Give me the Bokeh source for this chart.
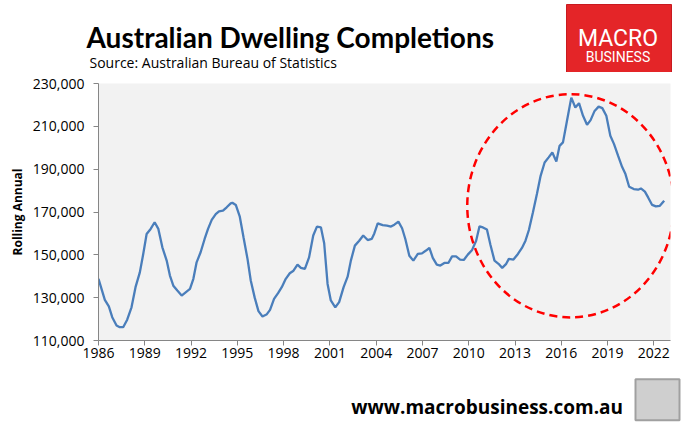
from bokeh.plotting import figure
from bokeh.models import Range1d, FixedTicker, NumeralTickFormatter
from bokeh.layouts import column
from bokeh.core.properties import value
from bokeh.embed import file_html
from bokeh.resources import INLINE

# ---- data (rolling annual dwelling completions) ----
years = [
    1986.00, 1986.41, 1986.67, 1986.89, 1987.17, 1987.38, 1987.60, 1987.86,
    1988.14, 1988.40, 1988.68, 1988.90, 1989.12, 1989.38, 1989.64, 1989.88,
    1990.14, 1990.42, 1990.63, 1990.85, 1991.11, 1991.39, 1991.65, 1991.93,
    1992.15, 1992.36, 1992.62, 1992.88, 1993.10, 1993.34, 1993.60, 1993.81,
    1994.07, 1994.31, 1994.57, 1994.68, 1994.90, 1995.16, 1995.40, 1995.66,
    1995.87, 1996.13, 1996.37, 1996.63, 1996.89, 1997.12, 1997.38, 1997.64,
    1997.88, 1998.14, 1998.40, 1998.64, 1998.90, 1999.12, 1999.38, 1999.65,
    1999.92, 2000.16, 2000.42, 2000.63, 2000.85, 2001.06, 2001.35, 2001.60,
    2001.89, 2002.15, 2002.36, 2002.62, 2002.90, 2003.16, 2003.45, 2003.71,
    2003.88, 2004.10, 2004.42, 2004.70, 2004.96, 2005.18, 2005.44, 2005.68,
    2005.89, 2006.15, 2006.41, 2006.70, 2006.97, 2007.23, 2007.45, 2007.67,
    2007.93, 2008.16, 2008.42, 2008.68, 2008.92, 2009.18, 2009.44, 2009.68,
    2009.94, 2010.22, 2010.48, 2010.70, 2010.92, 2011.18, 2011.41, 2011.67,
    2011.93, 2012.17, 2012.43, 2012.60, 2012.90, 2013.19, 2013.45, 2013.68,
    2013.90, 2014.16, 2014.42, 2014.66, 2014.92, 2015.18, 2015.42, 2015.68,
    2015.89, 2016.11, 2016.37, 2016.65, 2016.91, 2017.15, 2017.41, 2017.67,
    2017.90, 2018.16, 2018.42, 2018.66, 2018.92, 2019.18, 2019.42, 2019.68,
    2019.94, 2020.16, 2020.40, 2020.70, 2020.98, 2021.16, 2021.42, 2021.63,
    2021.89, 2022.13, 2022.39, 2022.67,
]
completions = [
    138800, 129000, 125900, 120900, 117000, 116200, 116200, 119700,
    125500, 134900, 141800, 150400, 159700, 162100, 165200, 162100,
    153500, 147300, 140300, 135600, 133300, 131000, 132500, 134100,
    138800, 146500, 151200, 157400, 162100, 166300, 169000, 170300,
    170600, 172200, 174000, 174300, 173300, 167800, 158200, 148100,
    138000, 129900, 123700, 121200, 122100, 124300, 129400, 132100,
    134900, 138800, 141400, 142600, 145400, 143900, 143400, 148800,
    159000, 163200, 162800, 155400, 136400, 128700, 125500, 127900,
    134900, 139800, 147300, 154300, 156600, 159000, 156900, 157400,
    160000, 164700, 163900, 163600, 163200, 164100, 165500, 162400,
    157400, 149600, 147300, 150400, 150700, 152000, 153200, 148600,
    145400, 145000, 146200, 146200, 149300, 149300, 147800, 147600,
    150100, 152300, 156600, 163300, 162800, 161800, 154600, 147300,
    145800, 143900, 145800, 148100, 147800, 150400, 153200, 156600,
    161600, 169800, 178400, 186900, 193100, 195500, 197800, 193600,
    200900, 202500, 212600, 223400, 218800, 220800, 214900, 210700,
    212900, 217200, 219200, 218500, 214900, 205600, 201700, 196300,
    191100, 187700, 181800, 180700, 180400, 181000, 179500, 176800,
    173300, 172600, 172900, 175300,
]
x_tick_years = [1986, 1989, 1992, 1995, 1998, 2001, 2004, 2007, 2010, 2013, 2016, 2019, 2022]
y_ticks = [110000, 130000, 150000, 170000, 190000, 210000, 230000]

title_text = "Australian Dwelling Completions"
source_text = "Source: Australian Bureau of Statistics"
y_label = "Rolling Annual"
url_text = "www.macrobusiness.com.au"

W = 684
FONT = "Open Sans"
HDR_H, MAIN_H, FTR_H = 72, 296, 56


def blank(height):
    f = figure(width=W, height=height, x_range=Range1d(0, W), y_range=Range1d(0, height),
               output_backend="svg", toolbar_location=None, min_border=0, frame_align=False)
    f.axis.visible = False
    f.grid.visible = False
    f.outline_line_color = None
    f.background_fill_color = "white"
    f.border_fill_color = "white"
    return f


# ---- header (page y 0..72) ----
hdr = blank(HDR_H)
hdr.text(x=[86], y=[36], text=[title_text], text_font=value("Lato"), text_font_style="bold",
         text_font_size="28px", text_color="black", text_baseline="alphabetic", text_align="left")
hdr.text(x=[89], y=[10.5], text=[source_text], text_font=value(FONT),
         text_font_size="14px", text_color="black", text_baseline="middle", text_align="left")
hdr.rect(x=[618.5], y=[34], width=[105], height=[68], fill_color="#e42528", line_color="#c81a1f")
hdr.text(x=[617.5], y=[34.5], text=["MACRO"], text_font=value("Roboto"),
         text_font_size="23px", text_color="white", text_baseline="alphabetic", text_align="center")
hdr.text(x=[617.5], y=[16], text=["BUSINESS"], text_font=value("Roboto"),
         text_font_size="14px", text_color="white", text_baseline="alphabetic", text_align="center")

# ---- main chart (page y 72..368, frame 83..340, x 98..670) ----
p = figure(width=W, height=MAIN_H, x_range=Range1d(1986, 2023.08), y_range=Range1d(110000, 230000),
           output_backend="svg", toolbar_location=None, frame_align=False,
           min_border_left=98, min_border_right=14, min_border_top=11, min_border_bottom=28)
p.background_fill_color = "#f2f2f2"
p.border_fill_color = "white"
p.outline_line_color = None
p.grid.visible = False

p.line(years, completions, line_color="#4a7ebb", line_width=2.3)
p.ellipse(x=[2016.6], y=[172900], width=[13.39], height=[104300], fill_color=None,
          line_color="#ff0000", line_width=2.5, line_dash="8 5")

p.xaxis.ticker = FixedTicker(ticks=x_tick_years)
p.yaxis.ticker = FixedTicker(ticks=y_ticks)
p.yaxis.formatter = NumeralTickFormatter(format="0,0")
for ax in (p.xaxis[0], p.yaxis[0]):
    ax.axis_line_color = "#868686"
    ax.major_tick_line_color = "#868686"
    ax.minor_tick_line_color = None
    ax.major_tick_in = 0
    ax.major_tick_out = 5
    ax.major_label_text_font = FONT
    ax.major_label_text_font_size = "14px"
    ax.major_label_text_color = "black"
p.xaxis.major_label_standoff = 2
p.yaxis.major_label_standoff = 9
p.yaxis.axis_label = y_label
p.yaxis.axis_label_text_font = FONT
p.yaxis.axis_label_text_font_style = "bold"
p.yaxis.axis_label_text_font_size = "12px"
p.yaxis.axis_label_text_color = "black"
p.yaxis.axis_label_standoff = 4

# ---- footer (page y 368..424) ----
ftr = blank(FTR_H)
ftr.text(x=[350.7], y=[17.3], text=[url_text], text_font=value(FONT), text_font_style="bold",
         text_font_size="19px", text_color="black", text_baseline="alphabetic", text_align="left")
ftr.rect(x=[657], y=[24.8], width=[44], height=[41], fill_color="#cfcfcf", line_color="#a0a0a0", line_width=2)

layout = column(hdr, p, ftr, spacing=0)
open("out.html", "w").write(file_html(layout, INLINE))
